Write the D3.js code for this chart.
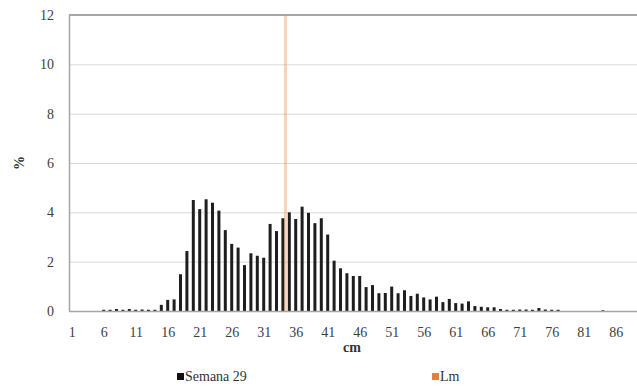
<!DOCTYPE html>
<meta charset="utf-8">
<style>
body { margin: 0; background: #fff; }
text { font-family: "Liberation Serif" !important; }
.tick text { fill: #404040; font-size: 14px; }
</style>
<svg width="637" height="387"></svg>
<script src="https://cdnjs.cloudflare.com/ajax/libs/d3/7.8.5/d3.min.js"></script>
<script>

// Length classes (cm), 1..89
var lengths = d3.range(1, 90);

// % of catch per length class, week 29
var semana29 = [
  0, 0, 0, 0, 0, 0.05, 0.05, 0.08, 0.05, 0.08,
  0.05, 0.06, 0.05, 0.05, 0.25, 0.45, 0.47, 1.49, 2.43, 4.5,
  4.13, 4.53, 4.39, 4.07, 3.28, 2.72, 2.57, 1.86, 2.34, 2.24,
  2.16, 3.53, 3.24, 3.76, 4.0, 3.73, 4.23, 3.98, 3.56, 3.76,
  3.1, 2.04, 1.73, 1.53, 1.42, 1.42, 0.97, 1.05, 0.72, 0.73,
  0.99, 0.72, 0.84, 0.61, 0.7, 0.55, 0.47, 0.58, 0.36, 0.49,
  0.32, 0.3, 0.39, 0.2, 0.17, 0.15, 0.15, 0.08, 0.05, 0.05,
  0.06, 0.06, 0.05, 0.12, 0.06, 0.05, 0.05, 0, 0, 0,
  0, 0, 0, 0.03, 0, 0, 0, 0, 0
];

// Lm marker: length class and bar height
var lmLength = 34;
var lmValue = 12;

var yTicks = [0, 2, 4, 6, 8, 10, 12];
var xTickLabels = d3.range(1, 90, 5);

var svg = d3.select("svg"),
    plotLeft = 69, plotTop = 15, plotBottom = 311,
    step = 6.4;

var x = d3.scaleBand()
    .domain(lengths)
    .range([plotLeft, plotLeft + lengths.length * step])
    .padding(0);

var y = d3.scaleLinear()
    .domain([0, 12])
    .range([plotBottom, plotTop]);

// gridlines
svg.append("g")
  .selectAll("line")
  .data(yTicks.filter(function(d) { return d > 0 && d < 12; }))
  .enter().append("line")
    .attr("x1", plotLeft)
    .attr("x2", 637)
    .attr("y1", function(d) { return y(d) + 0.5; })
    .attr("y2", function(d) { return y(d) + 0.5; })
    .attr("stroke", "#d9d9d9")
    .attr("stroke-width", 1);

// top border
svg.append("line")
    .attr("x1", plotLeft).attr("x2", 637)
    .attr("y1", y(12)).attr("y2", y(12))
    .attr("stroke", "#a6a6a6")
    .attr("stroke-width", 2);

// y axis
var yAxis = svg.append("g")
    .attr("transform", "translate(" + plotLeft + ",0)")
    .call(d3.axisLeft(y).tickValues(yTicks).tickSize(0).tickPadding(15));
yAxis.select(".domain").remove();

svg.append("line")
    .attr("x1", plotLeft + 0.5).attr("x2", plotLeft + 0.5)
    .attr("y1", plotTop).attr("y2", plotBottom)
    .attr("stroke", "#a6a6a6")
    .attr("stroke-width", 1.5);

// bars
var bw = 3;
svg.append("g")
  .selectAll("rect")
  .data(semana29)
  .enter().append("rect")
    .attr("x", function(d, i) { return x(lengths[i]) + x.bandwidth() / 2 - bw / 2 - 0.5; })
    .attr("y", function(d) { return y(d); })
    .attr("width", bw)
    .attr("height", function(d) { return plotBottom - y(d); })
    .attr("fill", "#1e1e1e");

// Lm bar
svg.append("rect")
    .attr("x", x(lmLength) + x.bandwidth() / 2 + 0.5)
    .attr("y", y(lmValue))
    .attr("width", 3)
    .attr("height", plotBottom - y(lmValue))
    .attr("fill", "#ed7d31")
    .attr("fill-opacity", 0.35);

// baseline + x labels
svg.append("line")
    .attr("x1", plotLeft).attr("x2", 637)
    .attr("y1", plotBottom + 0.5).attr("y2", plotBottom + 0.5)
    .attr("stroke", "#a6a6a6")
    .attr("stroke-width", 1.5);

var xAxis = svg.append("g")
    .attr("transform", "translate(0," + plotBottom + ")")
    .call(d3.axisBottom(x).tickValues(xTickLabels).tickSize(0).tickPadding(16));
xAxis.select(".domain").remove();

// axis titles
svg.append("text")
    .attr("transform", "translate(24,163) rotate(-90)")
    .attr("text-anchor", "middle")
    .attr("font-weight", "bold")
    .attr("font-size", 14)
    .attr("fill", "#333")
    .text("%");

svg.append("text")
    .attr("x", 352)
    .attr("y", 352)
    .attr("text-anchor", "middle")
    .attr("font-weight", "bold")
    .attr("font-size", 14)
    .attr("fill", "#333")
    .text("cm");

// legend
var legend = [
  { name: "Semana 29", color: "#111", x: 177 },
  { name: "Lm", color: "#ed7d31", x: 432 }
];
var lg = svg.append("g").selectAll("g")
  .data(legend)
  .enter().append("g")
    .attr("transform", function(d) { return "translate(" + d.x + ",372)"; });
lg.append("rect")
    .attr("width", 7).attr("height", 7)
    .attr("y", 1)
    .attr("fill", function(d) { return d.color; });
lg.append("text")
    .attr("x", 8)
    .attr("y", 8.5)
    .attr("font-size", 14)
    .attr("fill", "#333")
    .text(function(d) { return d.name; });

</script>
